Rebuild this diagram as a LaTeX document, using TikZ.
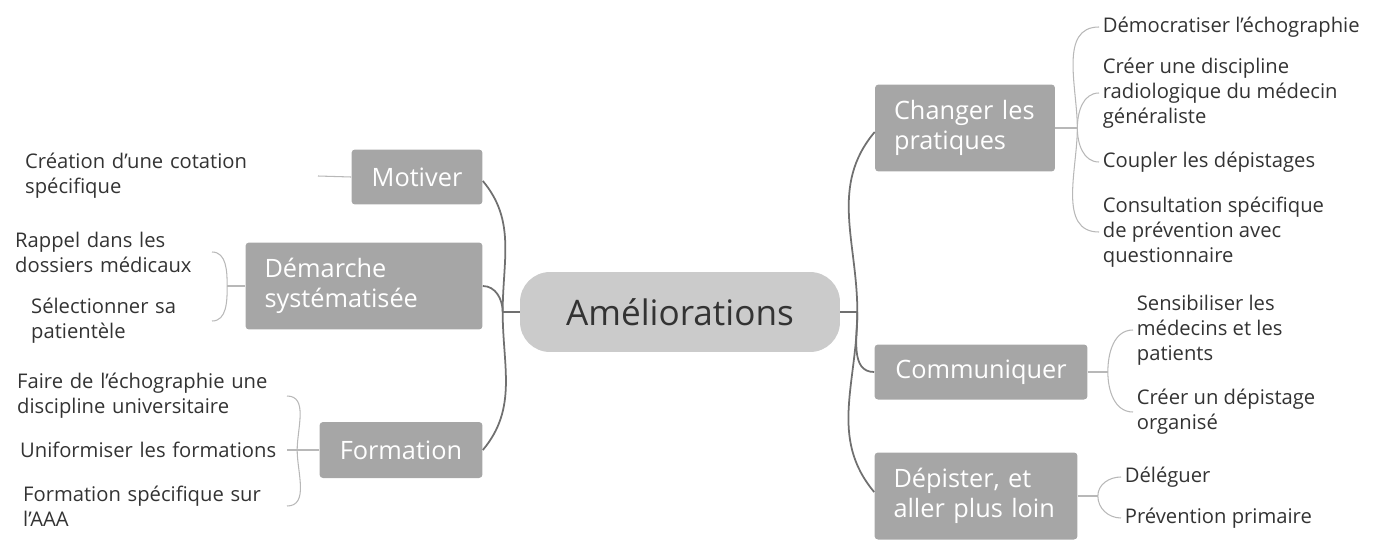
\documentclass[tikz,border=0pt]{standalone}
\usepackage{fontspec}
\setmainfont{Open Sans}
\usepackage{tikz}
\definecolor{boxgray}{HTML}{A6A6A6}
\definecolor{rootgray}{HTML}{CBCBCB}
\definecolor{linegray}{HTML}{707070}
\definecolor{bracegray}{HTML}{B8B8B8}
\definecolor{leaftext}{HTML}{333333}
\tikzset{
        topic/.style={
            fill=boxgray, text=white, rounded corners=2pt,
            inner xsep=0.38cm, inner ysep=0pt, align=left,
            font=\fontsize{14.4}{17}\selectfont
        },
        leaf/.style={
            text=leaftext, inner sep=2pt, align=left,
            font=\fontsize{11.5}{14.2}\selectfont
        },
    }

\begin{document}
\begin{tikzpicture}[
          x=0.02cm, y=-0.02cm,
          root/.style = {fill=rootgray, text=leaftext, rounded corners=0.6cm,
                         minimum width=6.4cm, minimum height=1.6cm,
                         font=\fontsize{20}{24}\selectfont},
          trunk/.style = {draw=linegray, line width=1pt},
          twig/.style = {draw=bracegray, line width=0.6pt}
          ]
 \useasboundingbox (0,0) rectangle (1375,541);
          % centre et branches
          \node[root] (root) at (680,312) {Améliorations};
          \node[topic, minimum width=2.62cm, minimum height=1.1cm] (motiver) at (417,177) {Motiver};
          \node[topic, text width=3.98cm, minimum height=1.74cm] (demarche) at (364,286) {Démarche\\systématisée};
          \node[topic, minimum width=3.26cm, minimum height=1.12cm] (formation) at (401,450) {Formation};
          \node[topic, text width=2.84cm, minimum height=1.74cm] (changer) at (965,128) {Changer les\\pratiques};
          \node[topic, minimum width=4.26cm, minimum height=1.1cm] (communiquer) at (981,372) {Communiquer};
          \node[topic, text width=3.3cm, minimum height=1.74cm] (depister) at (976,496) {Dépister, et\\aller plus loin};
          % feuilles gauche
          \node[leaf, anchor=east, text width=5.78cm] (cotation) at (318,176) {Création d'une cotation\\spécifique};
          \node[leaf, anchor=east, text width=3.86cm] (rappel) at (212,252) {Rappel dans les\\dossiers médicaux};
          \node[leaf, anchor=east, text width=3.54cm] (patientele) at (212,321) {Sélectionner sa\\patientèle};
          \node[leaf, anchor=east, text width=5.32cm] (univ) at (287,396) {Faire de l'échographie une\\discipline universitaire};
          \node[leaf, anchor=east, text width=5.26cm] (uniform) at (287,450) {Uniformiser les formations};
          \node[leaf, anchor=east, text width=5.2cm] (aaa) at (287,506) {Formation spécifique sur\\l'AAA};
          % feuilles droite
          \node[leaf, anchor=west] (democ) at (1099,27) {Démocratiser l'échographie};
          \node[leaf, anchor=west] (discip) at (1099,93) {Créer une discipline\\radiologique du médecin\\généraliste};
          \node[leaf, anchor=west] (coupler) at (1099,162) {Coupler les dépistages};
          \node[leaf, anchor=west] (consult) at (1099,232) {Consultation spécifique\\de prévention avec\\questionnaire};
          \node[leaf, anchor=west] (sensib) at (1133,330) {Sensibiliser les\\médecins et les\\patients};
          \node[leaf, anchor=west] (organise) at (1133,412) {Créer un dépistage\\organisé};
          \node[leaf, anchor=west] (deleguer) at (1121,477) {Déléguer};
          \node[leaf, anchor=west] (primaire) at (1121,518) {Prévention primaire};
          % tronc
          \draw[trunk] (root.west) -- ++(-17,0) coordinate (jl);
          \draw[trunk] (root.east) -- ++(17,0) coordinate (jr);
          \draw[trunk] (jl) to[out=90,in=-50] ([yshift=-0.08cm]motiver.east);
          \draw[trunk] (jl) to[out=90,in=0] (demarche.east);
          \draw[trunk] (jl) to[out=-90,in=50] (formation.east);
          \draw[trunk] (jr) to[out=90,in=-130] ([yshift=-0.08cm]changer.west);
          \draw[trunk] (jr) to[out=-90,in=180] (communiquer.west);
          \draw[trunk] (jr) to[out=-90,in=130] ([yshift=0.08cm]depister.west);
          % accolades
          \draw[twig] (motiver.west) -- (cotation.east);
          \draw[twig] (demarche.west) -- ++(-18,0) coordinate (jdem);
          \draw[twig] (jdem) to[out=90,in=0] (rappel.east);
          \draw[twig] (jdem) to[out=-90,in=0] (patientele.east);
          \draw[twig] (formation.west) -- ++(-22,0) coordinate (jfor);
          \draw[twig] (jfor) to[out=90,in=0] (univ.east);
          \draw[twig] (jfor) -- (uniform.east);
          \draw[twig] (jfor) to[out=-90,in=0] (aaa.east);
          \draw[twig] (changer.east) -- ++(22,0) coordinate (jcha);
          \foreach \f/\d in {democ/90, discip/90, coupler/-90, consult/-90}
            \draw[twig] (jcha) to[out=\d,in=180] (\f.west);
          \draw[twig] (communiquer.east) -- ++(20,0) coordinate (jcom);
          \foreach \f/\d in {sensib/90, organise/-90}
            \draw[twig] (jcom) to[out=\d,in=180] (\f.west);
          \draw[twig] (depister.east) -- ++(20,0) coordinate (jdep);
          \foreach \f/\d in {deleguer/90, primaire/-90}
            \draw[twig] (jdep) to[out=\d,in=180] (\f.west);
\end{tikzpicture}
\end{document}
